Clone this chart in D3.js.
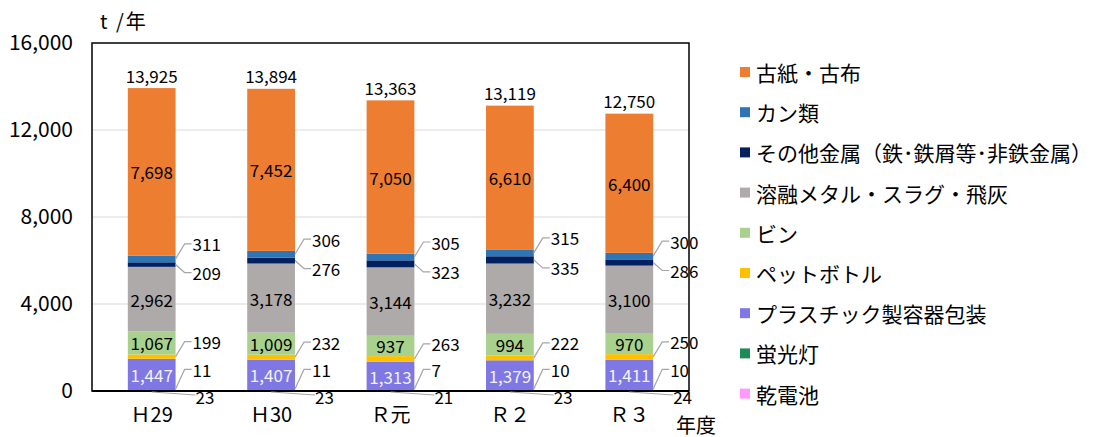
<!DOCTYPE html>
<html>
<head>
<meta charset="utf-8">
<script src="https://cdn.jsdelivr.net/npm/d3@7"></script>
<style>
body { margin:0; background:#fff; }
text { font-family: "Noto Sans CJK JP", "Noto Sans", sans-serif; fill:#000; }
</style>
</head>
<body>
<svg id="chart" width="1100" height="437"></svg>
<script>

// data
var years = ["Ｈ29", "Ｈ30", "Ｒ元", "Ｒ２", "Ｒ３"];
var seriesNames = ["乾電池", "蛍光灯", "プラスチック製容器包装", "ペットボトル", "ビン",
  "溶融メタル・スラグ・飛灰", "その他金属（鉄･鉄屑等･非鉄金属）", "カン類", "古紙・古布"];
var seriesColors = ["#FF99FF", "#1E8B56", "#7F77E3", "#FFC000", "#A9D18E",
  "#AEAAAA", "#002060", "#2E75B6", "#ED7D31"];
var kanDenchi = [23, 23, 21, 23, 24];
var keikoto = [11, 11, 7, 10, 10];
var plastic = [1447, 1407, 1313, 1379, 1411];
var petBottle = [199, 232, 263, 222, 250];
var bin = [1067, 1009, 937, 994, 970];
var slag = [2962, 3178, 3144, 3232, 3100];
var otherMetal = [209, 276, 323, 335, 286];
var cans = [311, 306, 305, 315, 300];
var paper = [7698, 7452, 7050, 6610, 6400];
var totals = [13925, 13894, 13363, 13119, 12750];
var yTicks = [0, 4000, 8000, 12000, 16000];

var values = [kanDenchi, keikoto, plastic, petBottle, bin, slag, otherMetal, cans, paper];

var svg = d3.select("#chart");
var pLeft = 92, pRight = 689, pTop = 43, pBottom = 391;

var x = d3.scaleBand().domain(years).range([pLeft, pRight]).padding(0);
var barW = x.bandwidth() * 0.4;
var y = d3.scaleLinear().domain([0, 16000]).range([pBottom, pTop]);

var fmt = d3.format(",");
var lblSize = "17px";

// grid
svg.selectAll(".grid").data(yTicks.slice(1, -1)).enter().append("line")
  .attr("x1", pLeft).attr("x2", pRight)
  .attr("y1", function(d){ return y(d); }).attr("y2", function(d){ return y(d); })
  .attr("stroke", "#D9D9D9").attr("stroke-width", 1);

// y axis labels
var yAxis = d3.axisLeft(y).tickValues(yTicks).tickFormat(fmt).tickSize(0).tickPadding(19);
var ya = svg.append("g").attr("transform", "translate(" + pLeft + ",0)").call(yAxis);
ya.select(".domain").remove();
ya.selectAll("text").style("font-size", "21px").style("font-family", "'Noto Sans CJK JP'").attr("fill", "#000");

// stacks
var rows = years.map(function(yr, i){
  var r = { year: yr };
  seriesNames.forEach(function(s, k){ r[s] = values[k][i]; });
  return r;
});
var stack = d3.stack().keys(seriesNames)(rows);

var layer = svg.selectAll(".layer").data(stack).enter().append("g")
  .attr("fill", function(d, k){ return seriesColors[k]; });
layer.selectAll("rect").data(function(d){ return d; }).enter().append("rect")
  .attr("x", function(d){ return x(d.data.year) + (x.bandwidth() - barW) / 2; })
  .attr("width", barW)
  .attr("y", function(d){ return y(d[1]); })
  .attr("height", function(d){ return y(d[0]) - y(d[1]); });

// plot frame
svg.append("rect").attr("x", pLeft).attr("y", pTop).attr("width", pRight - pLeft).attr("height", pBottom - pTop)
  .attr("fill", "none").attr("stroke", "#000").attr("stroke-width", 1.5);
svg.append("line").attr("x1", pLeft).attr("x2", pRight).attr("y1", pBottom).attr("y2", pBottom)
  .attr("stroke", "#000").attr("stroke-width", 2);

// inside labels: paper(8), slag(5), bin(4), plastic(2)
var inside = [2, 4, 5, 8];
inside.forEach(function(k){
  svg.selectAll(".in" + k).data(stack[k]).enter().append("text")
    .attr("x", function(d){ return x(d.data.year) + x.bandwidth() / 2; })
    .attr("y", function(d){ return (y(d[0]) + y(d[1])) / 2; })
    .attr("text-anchor", "middle").attr("dominant-baseline", "central")
    .style("font-size", lblSize)
    .style("fill", k === 2 ? "#F2F2F2" : "#000")
    .text(function(d){ return fmt(d[1] - d[0]); });
});

// outside labels with leader lines
var outside = [
  { k: 7, dy: -15 },
  { k: 6, dy: 8 },
  { k: 3, dy: -15 },
  { k: 1, dy: -21 }
];
outside.forEach(function(o){
  stack[o.k].forEach(function(d){
    var bx = x(d.data.year) + (x.bandwidth() + barW) / 2;
    var my = (y(d[0]) + y(d[1])) / 2;
    var ly = my + o.dy;
    var sy = o.k === 1 ? y(0) - 2 : my;
    svg.append("path")
      .attr("d", "M" + bx + "," + sy + "L" + (bx + 9) + "," + ly + "L" + (bx + 16) + "," + ly)
      .attr("fill", "none").attr("stroke", "#A6A6A6").attr("stroke-width", 1.2);
    svg.append("text").attr("x", bx + 17).attr("y", ly)
      .attr("dominant-baseline", "central").style("font-size", lblSize)
      .text(fmt(d[1] - d[0]));
  });
});
// 乾電池 labels below axis
stack[0].forEach(function(d){
  var cx = x(d.data.year) + x.bandwidth() / 2;
  var bx = cx + barW / 2;
  svg.append("path")
    .attr("d", "M" + cx + "," + (pBottom + 1) + "L" + (bx + 20) + "," + (pBottom + 4))
    .attr("fill", "none").attr("stroke", "#A6A6A6").attr("stroke-width", 1.2);
  svg.append("text").attr("x", bx + 20).attr("y", pBottom + 5)
    .attr("dominant-baseline", "central").style("font-size", lblSize)
    .text(fmt(d[1] - d[0]));
});

// totals
svg.selectAll(".tot").data(years).enter().append("text")
  .attr("x", function(d){ return x(d) + x.bandwidth() / 2; })
  .attr("y", function(d, i){ return y(totals[i]) - 13; })
  .attr("text-anchor", "middle").attr("dominant-baseline", "central")
  .style("font-size", lblSize)
  .text(function(d, i){ return fmt(totals[i]); });

// x labels
var xAxis = d3.axisBottom(x).tickSize(0).tickPadding(17);
var xa = svg.append("g").attr("transform", "translate(0," + pBottom + ")").call(xAxis);
xa.select(".domain").remove();
xa.selectAll("text").style("font-size", "20px").style("font-family", "'Noto Sans CJK JP'").attr("fill", "#000");

// axis titles
svg.append("text").attr("x", 100).attr("y", 20).attr("dominant-baseline", "central")
  .style("font-size", "20px").style("letter-spacing", "2px").text("t /年");
svg.append("text").attr("x", 676).attr("y", 424).attr("dominant-baseline", "central")
  .style("font-size", "20px").text("年度");

// legend, top to bottom reversed
var legendOrder = seriesNames.slice().reverse();
var legColors = seriesColors.slice().reverse();
var lg = svg.selectAll(".leg").data(legendOrder).enter().append("g")
  .attr("transform", function(d, i){ return "translate(740," + (72 + i * 40.2) + ")"; });
lg.append("rect").attr("x", 0).attr("y", -5).attr("width", 10).attr("height", 10)
  .attr("fill", function(d, i){ return legColors[i]; });
lg.append("text").attr("x", 16).attr("y", 0).attr("dominant-baseline", "central")
  .style("font-size", "21px").text(function(d){ return d; });

</script>
</body>
</html>
